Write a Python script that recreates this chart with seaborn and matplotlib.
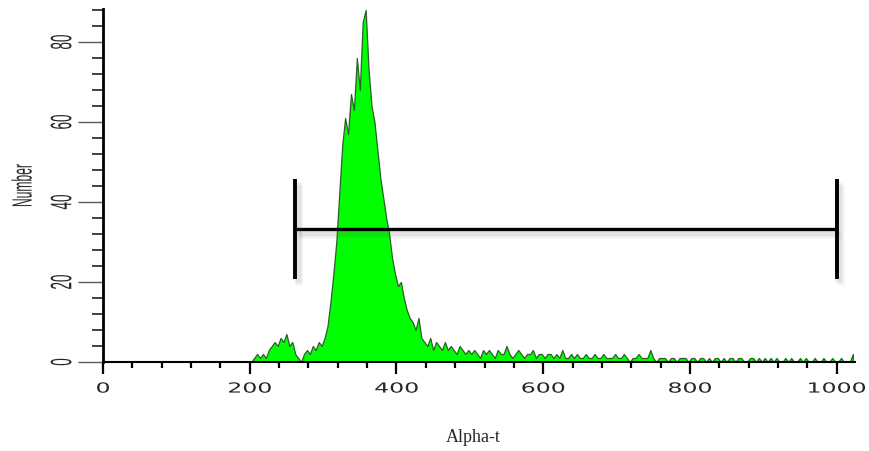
import numpy as np
import pandas as pd
import matplotlib
matplotlib.use("Agg")
import matplotlib.pyplot as plt
import seaborn as sns
from matplotlib.patheffects import AbstractPathEffect, SimpleLineShadow, Normal
from matplotlib.transforms import Affine2D
from matplotlib.ticker import MultipleLocator

# ---- data ----
bin_start = 200
bin_width = 4
counts = [
    0, 1, 2, 1, 2, 1, 3, 4, 5, 4,
    6, 5, 7, 4, 5, 2, 1, 0, 2, 3,
    2, 4, 3, 5, 4, 6, 9, 15, 22, 30,
    42, 54, 61, 57, 67, 63, 76, 68, 85, 88,
    73, 64, 60, 53, 46, 41, 36, 32, 26, 22,
    19, 20, 16, 13, 11, 10, 8, 11, 6, 5,
    4, 6, 3, 5, 4, 3, 5, 3, 4, 3,
    2, 4, 3, 2, 3, 2, 3, 2, 1, 3,
    # 520-600
    2, 3, 2, 1, 3, 2, 2, 4, 2, 1, 2, 3, 2, 1, 2, 2, 3, 1, 2, 2,
    # 600-700
    1, 2, 2, 1, 2, 1, 3, 1, 1, 2, 1, 2, 1, 1, 2, 1, 1, 2, 1, 1, 2, 1, 1, 1, 2,
    # 700-800
    1, 1, 2, 1, 0, 1, 1, 2, 1, 1, 1, 3, 1, 0, 1, 1, 1, 0, 1, 1, 0, 1, 1, 1, 0,
    # 800-900
    1, 1, 0, 1, 1, 0, 1, 0, 1, 1, 0, 1, 0, 1, 1, 0, 1, 1, 0, 0, 1, 1, 0, 1, 0,
    # 900-1024
    1, 0, 1, 0, 1, 0, 0, 1, 0, 1, 0, 0, 1, 0, 1, 0, 0, 1, 0, 0, 1, 0, 0, 1, 0,
    0, 1, 0, 0, 0, 2,
]
x_ticks = [0, 200, 400, 600, 800, 1000]
x_tick_labels = ["0", "200", "400", "600", "800", "1000"]
y_ticks = [0, 20, 40, 60, 80]
y_tick_labels = ["0", "20", "40", "60", "80"]
x_max = 1025
y_max = 88.25

gate_lo = 262
gate_hi = 1000
gate_y = 33.25
gate_cap_lo = 20.75
gate_cap_hi = 45.75

x_label = "Alpha-t"
y_label = "Number"


class StretchX(AbstractPathEffect):
    """Draw text stretched horizontally around its own centre."""
    def __init__(self, sx):
        super().__init__()
        self.sx = sx

    def draw_path(self, renderer, gc, tpath, affine, rgbFace=None):
        ext = tpath.get_extents(affine)
        cx = (ext.x0 + ext.x1) / 2
        aff = affine + Affine2D().translate(-cx, 0).scale(self.sx, 1).translate(cx, 0)
        renderer.draw_path(gc, tpath, aff, rgbFace)


edges = [bin_start + bin_width * i for i in range(len(counts) + 1)]
centers = [(edges[i] + edges[i + 1]) / 2 for i in range(len(counts))]
df = pd.DataFrame({"alpha_t": centers, "number": counts})

sns.set_style("ticks")
plt.rcParams["font.family"] = ["DejaVu Sans"]

fig = plt.figure(figsize=(8.7, 4.52), dpi=100)
ax = fig.add_axes([103 / 870, 89 / 452, 752 / 870, 353 / 452])

sns.histplot(data=df, x="alpha_t", weights="number", bins=edges,
             element="poly", fill=True, color="#00ff00", alpha=1,
             edgecolor="#2a5f2a", linewidth=0.9, ax=ax)

# gate marker with soft shadow
shadow = [SimpleLineShadow(offset=(o, -o - 1), shadow_color="0.35", alpha=0.06, linewidth=5)
          for o in (1, 2, 3)] + [Normal()]
ax.plot([gate_lo, gate_hi], [gate_y, gate_y], color="black", lw=2.4,
        solid_capstyle="butt", path_effects=shadow)
for gx in (gate_lo, gate_hi):
    ax.plot([gx, gx], [gate_cap_lo, gate_cap_hi], color="black", lw=2.8,
            solid_capstyle="butt", path_effects=shadow)

ax.set_xlim(0, x_max)
ax.set_ylim(0, y_max)
sns.despine(ax=ax)
ax.spines["left"].set_linewidth(2.0)
ax.spines["bottom"].set_linewidth(1.5)
ax.spines["left"].set_color("black")
ax.spines["bottom"].set_color("black")

ax.set_xticks(x_ticks)
ax.set_xticklabels(x_tick_labels)
ax.set_yticks(y_ticks)
ax.set_yticklabels(y_tick_labels)
ax.xaxis.set_minor_locator(MultipleLocator(40))
ax.yaxis.set_minor_locator(MultipleLocator(4))

ax.tick_params(axis="x", which="major", length=8.6, width=1.6, color="black",
               direction="out", pad=5.5, labelsize=10)
ax.tick_params(axis="x", which="minor", length=4.3, width=1.6, color="black",
               direction="out")
ax.tick_params(axis="y", which="major", length=18, width=1.0, color="0.35",
               direction="out", pad=6.7)
ax.tick_params(axis="y", which="minor", length=8, width=1.3, color="0.2",
               direction="out")

for lbl in ax.get_xticklabels():
    lbl.set_fontfamily(["DejaVu Sans"])
    lbl.set_path_effects([StretchX(1.7)])
for lbl in ax.get_yticklabels():
    lbl.set_fontfamily(["Liberation Sans", "DejaVu Sans"])
    lbl.set_fontsize(9.7)
    lbl.set_rotation(90)
    lbl.set_va("center")
    lbl.set_path_effects([StretchX(2.2)])

ax.set_xlabel(x_label, fontfamily=["Liberation Serif", "DejaVu Serif"], fontsize=13)
ax.xaxis.set_label_coords(0.492, -0.186)
ax.set_ylabel(y_label, fontfamily=["Liberation Sans", "DejaVu Sans"], fontsize=8.7)
ax.yaxis.label.set_path_effects([StretchX(2.3)])
ax.yaxis.set_label_coords(-0.0985, 0.5)

fig.savefig("out.png", dpi=100)
